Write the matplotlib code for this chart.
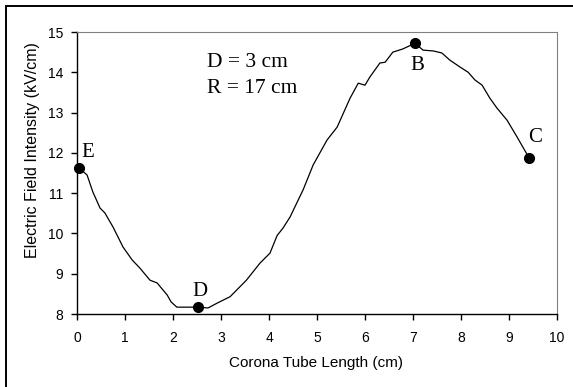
import matplotlib
matplotlib.use('Agg')
import matplotlib.pyplot as plt
from matplotlib.patches import Rectangle

# field intensity along the corona tube
length_cm = [0.05, 0.21, 0.33, 0.48, 0.58, 0.75, 0.96, 1.15, 1.31, 1.52, 1.67, 1.88, 1.96,
             2.08, 2.31, 2.52, 2.73, 2.92, 3.19, 3.53, 3.81, 4.02, 4.17, 4.29, 4.44, 4.54,
             4.71, 4.92, 5.21, 5.42, 5.69, 5.86, 6.0, 6.1, 6.31, 6.42, 6.58, 6.79, 7.04,
             7.21, 7.42, 7.6, 7.77, 7.98, 8.15, 8.29, 8.44, 8.6, 8.75, 8.96, 9.17, 9.42]
field_kv = [11.62, 11.45, 11.03, 10.63, 10.51, 10.16, 9.66, 9.34, 9.14, 8.84, 8.77, 8.47, 8.3,
            8.17, 8.17, 8.17, 8.15, 8.27, 8.43, 8.84, 9.26, 9.51, 9.95, 10.13, 10.41, 10.66,
            11.08, 11.7, 12.32, 12.64, 13.36, 13.73, 13.68, 13.88, 14.23, 14.25, 14.5, 14.58, 14.72,
            14.55, 14.53, 14.48, 14.3, 14.13, 14.0, 13.81, 13.68, 13.36, 13.11, 12.81, 12.39, 11.87]

point_names = ['E', 'D', 'B', 'C']
point_x = [0.05, 2.52, 7.04, 9.42]
point_y = [11.62, 8.17, 14.72, 11.87]
label_x = [0.23, 2.56, 7.1, 9.54]
label_y = [12.0, 8.57, 14.18, 12.39]

fig = plt.figure(figsize=(5.73, 3.87), dpi=100)
fig.patches.append(Rectangle((6/573, -0.05), 1.2, 1 - 6/387 + 0.05, transform=fig.transFigure,
                             fill=False, edgecolor='black', linewidth=1.4))
ax = fig.add_axes([77/573, 1 - 314/387, 480/573, 282/387])

ax.plot(length_cm, field_kv, color='black', linewidth=0.9)
ax.plot(point_x, point_y, 'o', color='black', markersize=7, clip_on=False, zorder=3)
for name, lx, ly in zip(point_names, label_x, label_y):
    ax.text(lx, ly, name, fontsize=15, family='Liberation Serif', ha='center', va='center')

ax.text(2.71, 14.13, 'D = 3 cm', fontsize=15.5, family='Liberation Serif', va='baseline')
ax.text(2.71, 13.48, 'R = 17 cm', fontsize=15.5, family='Liberation Serif', va='baseline')

ax.set_xlim(0, 10)
ax.set_ylim(8, 15)
ax.set_xticks(range(0, 11))
ax.set_yticks(range(8, 16))
ax.tick_params(direction='out', length=4, width=1, labelsize=10)
ax.tick_params(axis='x', pad=8)
ax.tick_params(axis='y', pad=6)
for lab in ax.get_xticklabels() + ax.get_yticklabels():
    lab.set_family('Liberation Sans')
ax.spines['top'].set_color('#808080')
ax.spines['right'].set_color('#808080')
ax.spines['left'].set_linewidth(1.0)
ax.spines['bottom'].set_linewidth(1.0)
ax.set_xlabel('Corona Tube Length (cm)', fontsize=11, family='Liberation Sans')
ax.set_ylabel('Electric Field Intensity (kV/cm)', fontsize=11.5, family='Liberation Sans')
ax.xaxis.label.set_va('center')
ax.yaxis.label.set_va('center')
ax.xaxis.set_label_coords(239/480, -49/282)
ax.yaxis.set_label_coords(-44/480, 164/282)

fig.savefig('out.png', dpi=100)
